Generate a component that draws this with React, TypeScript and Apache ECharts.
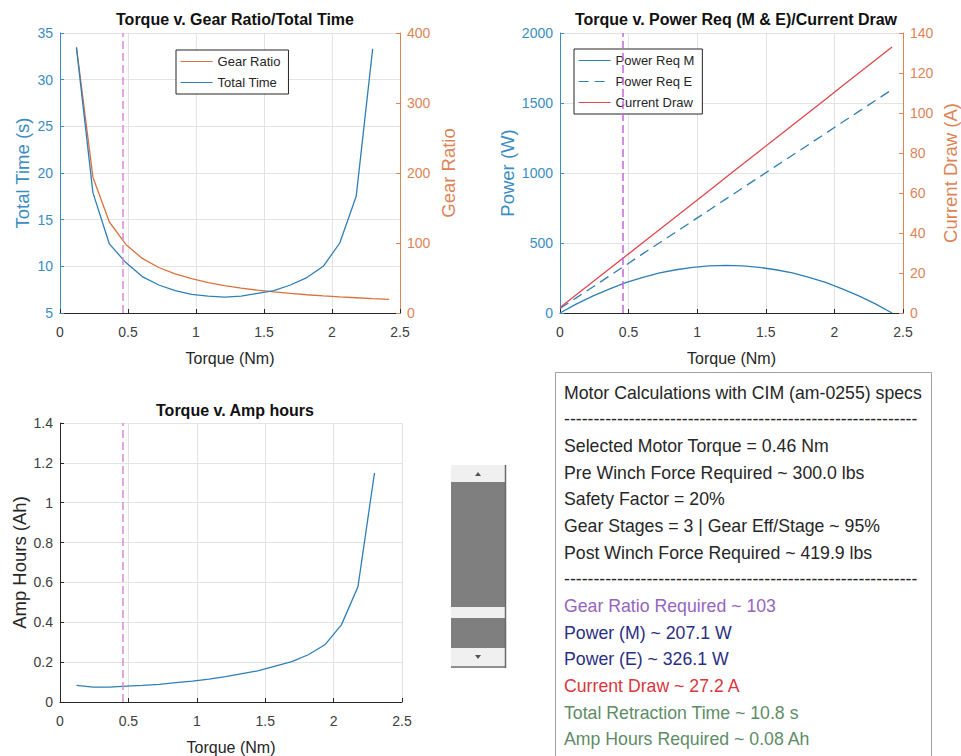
import React, { useEffect, useRef } from "react";
import * as echarts from "echarts";

// ---- Data ----
const torqueA = [0.121, 0.242, 0.363, 0.484, 0.605, 0.726, 0.847, 0.968, 1.089, 1.21, 1.331, 1.452, 1.573, 1.694, 1.815, 1.936, 2.057, 2.178, 2.299, 2.42];
const gearRatio = [380, 194, 130, 98, 78, 65, 56, 49, 43.5, 39, 35.6, 32.6, 30.1, 28, 26.1, 24.5, 23, 21.8, 20.6, 19.6];
const totalTime = [33.4, 17.9, 12.4, 10.4, 8.9, 8.0, 7.4, 7.0, 6.8, 6.7, 6.8, 7.1, 7.4, 8.0, 8.8, 10.0, 12.5, 17.5, 33.3];
const ampHours = [0.083, 0.075, 0.075, 0.08, 0.083, 0.088, 0.097, 0.105, 0.115, 0.127, 0.142, 0.157, 0.18, 0.203, 0.237, 0.287, 0.387, 0.578, 1.15];

const torqueB = [0, 0.121, 0.242, 0.363, 0.484, 0.605, 0.726, 0.847, 0.968, 1.089, 1.21, 1.331, 1.452, 1.573, 1.694, 1.815, 1.936, 2.057, 2.178, 2.299, 2.42];
const powerM = [0, 65, 122, 173, 218, 255, 286, 309, 326, 337, 340, 337, 326, 309, 286, 255, 218, 173, 122, 65, 0];
const powerE = [32, 110, 188, 266, 345, 424, 502, 580, 658, 736, 815, 893, 971, 1049, 1127, 1205, 1283, 1362, 1440, 1518, 1596];
const currentDraw = [2.7, 9.2, 15.7, 22.2, 28.7, 35.3, 41.8, 48.3, 54.8, 61.3, 67.9, 74.4, 80.9, 87.4, 93.9, 100.4, 106.9, 113.5, 120.0, 126.5, 133.0];

const selectedTorque = 0.46;

const titles = ["Torque v. Gear Ratio/Total Time", "Torque v. Power Req (M & E)/Current Draw", "Torque v. Amp hours"];

const dashes = "------------------------------------------------------------";
const infoLines = [
  { text: "Motor Calculations with CIM (am-0255) specs", color: "#262626" },
  { text: dashes, color: "#262626" },
  { text: "Selected Motor Torque = 0.46 Nm", color: "#262626" },
  { text: "Pre Winch Force Required ~ 300.0 lbs", color: "#262626" },
  { text: "Safety Factor = 20%", color: "#262626" },
  { text: "Gear Stages = 3 | Gear Eff/Stage ~ 95%", color: "#262626" },
  { text: "Post Winch Force Required ~ 419.9 lbs", color: "#262626" },
  { text: dashes, color: "#262626" },
  { text: "Gear Ratio Required ~ 103", color: "#9565bd" },
  { text: "Power (M) ~ 207.1 W", color: "#2b2f82" },
  { text: "Power (E) ~ 326.1 W", color: "#2b2f82" },
  { text: "Current Draw ~ 27.2 A", color: "#d9363e" },
  { text: "Total Retraction Time ~ 10.8 s", color: "#5e8c66" },
  { text: "Amp Hours Required ~ 0.08 Ah", color: "#5e8c66" },
];

const FONT = '"Liberation Sans", Arial, Helvetica, sans-serif';
const BLUE = "#2f7fb6";
const BLUE_AX = "#3b8cc2";
const ORANGE = "#d9733d";
const ORANGE_AX = "#dc8456";
const RED = "#e0474c";
const DARK = "#262626";
const GRID = "#e3e3e3";

const zip = (xs: number[], ys: number[]) => ys.map((y, i) => [xs[i], y]);
const plainNum = (v: number) => String(v);

function xAxisFor(gridIndex: number) {
  return {
    type: "value",
    gridIndex,
    min: 0,
    max: 2.5,
    interval: 0.5,
    name: "Torque (Nm)",
    nameLocation: "middle",
    nameGap: 37,
    nameTextStyle: { fontSize: 16, color: DARK, fontFamily: FONT },
    axisLine: { show: true, onZero: false, lineStyle: { color: DARK, width: 1 } },
    axisTick: { show: true, inside: true, length: 4, lineStyle: { color: DARK } },
    axisLabel: { fontSize: 14, color: "#404040", margin: 12, fontFamily: FONT, formatter: plainNum },
    splitLine: { show: true, lineStyle: { color: GRID, width: 1 } },
  };
}

function yAxisFor(opts: any) {
  return {
    type: "value",
    gridIndex: opts.gridIndex,
    position: opts.position,
    min: opts.min,
    max: opts.max,
    interval: opts.interval,
    name: opts.name,
    nameLocation: "middle",
    nameRotate: 90,
    nameGap: opts.nameGap,
    nameTextStyle: { fontSize: 18.5, color: opts.nameColor, fontFamily: FONT },
    axisLine: { show: true, onZero: false, lineStyle: { color: opts.lineColor, width: 1 } },
    axisTick: { show: true, inside: true, length: 4, lineStyle: { color: opts.lineColor } },
    axisLabel: { fontSize: 14, color: opts.labelColor, margin: 7, fontFamily: FONT, formatter: plainNum },
    splitLine: { show: !!opts.split, lineStyle: { color: GRID, width: 1 } },
  };
}

function vline(color: string) {
  return {
    silent: true,
    symbol: ["none", "none"],
    label: { show: false },
    lineStyle: { type: [8, 4], color, width: 1.5 },
    data: [{ xAxis: selectedTorque }],
  };
}

const legendBase = {
  orient: "vertical",
  padding: [5, 8, 5, 4],
  itemWidth: 32,
  itemHeight: 14,
  itemGap: 8,
  borderColor: DARK,
  borderWidth: 1,
  borderRadius: 0,
  backgroundColor: "#ffffff",
  selectedMode: false,
  itemStyle: { color: "rgba(0,0,0,0)", borderWidth: 0, opacity: 0 },
  lineStyle: { width: 1.2 },
  textStyle: { fontSize: 13, color: DARK, fontFamily: FONT },
};

export default function App() {
  const ref = useRef<HTMLDivElement>(null);

  useEffect(() => {
    if (!ref.current) return;
    const chart = echarts.init(ref.current, undefined, { renderer: "svg" });

    const textEls: any[] = infoLines.map((l, i) => ({
      type: "text",
      x: 564,
      y: 392.7 + i * 26.65,
      style: {
        text: l.text,
        fill: l.color,
        font: `17.7px ${FONT}`,
        verticalAlign: "middle",
        align: "left",
      },
    }));

    const option: any = {
      animation: false,
      backgroundColor: "#ffffff",
      textStyle: { fontFamily: FONT },
      title: [
        { text: titles[0], left: 230, top: 6, textAlign: "center", textStyle: { fontSize: 16, fontWeight: "bold", color: "#111", fontFamily: FONT } },
        { text: titles[1], left: 731, top: 6, textAlign: "center", textStyle: { fontSize: 16, fontWeight: "bold", color: "#111", fontFamily: FONT } },
        { text: titles[2], left: 230, top: 397, textAlign: "center", textStyle: { fontSize: 16, fontWeight: "bold", color: "#111", fontFamily: FONT } },
      ],
      grid: [
        { left: 60, top: 33, width: 340, height: 280 },
        { left: 560, top: 33, width: 343, height: 280 },
        { left: 60, top: 423, width: 342, height: 280 },
      ],
      xAxis: [xAxisFor(0), xAxisFor(1), xAxisFor(2)],
      yAxis: [
        yAxisFor({ gridIndex: 0, position: "left", min: 5, max: 35, interval: 5, name: "Total Time (s)", nameGap: 28, nameColor: BLUE_AX, lineColor: BLUE_AX, labelColor: BLUE_AX, split: true }),
        yAxisFor({ gridIndex: 0, position: "right", min: 0, max: 400, interval: 100, name: "Gear Ratio", nameGap: 39, nameColor: ORANGE_AX, lineColor: ORANGE_AX, labelColor: ORANGE_AX, split: false }),
        yAxisFor({ gridIndex: 1, position: "left", min: 0, max: 2000, interval: 500, name: "Power (W)", nameGap: 43, nameColor: BLUE_AX, lineColor: BLUE_AX, labelColor: BLUE_AX, split: true }),
        yAxisFor({ gridIndex: 1, position: "right", min: 0, max: 140, interval: 20, name: "Current Draw (A)", nameGap: 38, nameColor: ORANGE_AX, lineColor: ORANGE_AX, labelColor: ORANGE_AX, split: false }),
        yAxisFor({ gridIndex: 2, position: "left", min: 0, max: 1.4, interval: 0.2, name: "Amp Hours (Ah)", nameGap: 31, nameColor: DARK, lineColor: DARK, labelColor: "#404040", split: true }),
      ],
      legend: [
        { ...legendBase, data: ["Gear Ratio", "Total Time"], left: 176, top: 50 },
        { ...legendBase, data: ["Power Req M", "Power Req E", "Current Draw"], left: 574, top: 49 },
      ],
      series: [
        {
          name: "Gear Ratio",
          type: "line",
          xAxisIndex: 0,
          yAxisIndex: 1,
          data: zip(torqueA, gearRatio),
          symbol: "none",
          lineStyle: { color: ORANGE, width: 1.3 },
          itemStyle: { color: ORANGE },
          z: 3,
        },
        {
          name: "Total Time",
          type: "line",
          xAxisIndex: 0,
          yAxisIndex: 0,
          data: zip(torqueA, totalTime),
          symbol: "none",
          lineStyle: { color: BLUE, width: 1.3 },
          itemStyle: { color: BLUE },
          markLine: vline("#d98ad9"),
          z: 3,
        },
        {
          name: "Power Req M",
          type: "line",
          xAxisIndex: 1,
          yAxisIndex: 2,
          data: zip(torqueB, powerM),
          symbol: "none",
          lineStyle: { color: BLUE, width: 1.3 },
          itemStyle: { color: BLUE },
          markLine: vline("#c567db"),
          z: 3,
        },
        {
          name: "Power Req E",
          type: "line",
          xAxisIndex: 1,
          yAxisIndex: 2,
          data: zip(torqueB, powerE),
          symbol: "none",
          lineStyle: { color: BLUE, width: 1.3, type: [10, 6] },
          itemStyle: { color: BLUE },
          z: 3,
        },
        {
          name: "Current Draw",
          type: "line",
          xAxisIndex: 1,
          yAxisIndex: 3,
          data: zip(torqueB, currentDraw),
          symbol: "none",
          lineStyle: { color: RED, width: 1.3 },
          itemStyle: { color: RED },
          z: 3,
        },
        {
          name: "Amp Hours",
          type: "line",
          xAxisIndex: 2,
          yAxisIndex: 4,
          data: zip(torqueA, ampHours),
          symbol: "none",
          lineStyle: { color: BLUE, width: 1.3 },
          itemStyle: { color: BLUE },
          markLine: vline("#d98ad9"),
          z: 3,
        },
      ],
      graphic: [
        // slider
        { type: "rect", shape: { x: 451, y: 465, width: 54, height: 17 }, style: { fill: "#f0f0f0" } },
        { type: "polygon", shape: { points: [[475, 476], [481, 476], [478, 472]] }, style: { fill: "#555" } },
        { type: "rect", shape: { x: 451, y: 482, width: 54, height: 125 }, style: { fill: "#7f7f7f" } },
        { type: "rect", shape: { x: 451, y: 607, width: 54, height: 11 }, style: { fill: "#f0f0f0" } },
        { type: "rect", shape: { x: 451, y: 618, width: 54, height: 30 }, style: { fill: "#7f7f7f" } },
        { type: "rect", shape: { x: 451, y: 648, width: 54, height: 18 }, style: { fill: "#f0f0f0" } },
        { type: "polygon", shape: { points: [[475, 655], [481, 655], [478, 659]] }, style: { fill: "#555" } },
        { type: "line", shape: { x1: 505.5, y1: 465, x2: 505.5, y2: 668 }, style: { stroke: "#6a6a6a", lineWidth: 1.5 } },
        { type: "line", shape: { x1: 451, y1: 667, x2: 506, y2: 667 }, style: { stroke: "#6a6a6a", lineWidth: 1.5 } },
        // info box
        { type: "rect", shape: { x: 555.5, y: 372.5, width: 376, height: 400 }, style: { fill: "#ffffff", stroke: "#a0a0a0", lineWidth: 1 } },
        ...textEls,
      ],
    };

    chart.setOption(option);
    return () => chart.dispose();
  }, []);

  return (
    <div
      ref={ref}
      style={{ position: "fixed", left: 0, top: 0, width: 961, height: 756, background: "#fff" }}
    />
  );
}
